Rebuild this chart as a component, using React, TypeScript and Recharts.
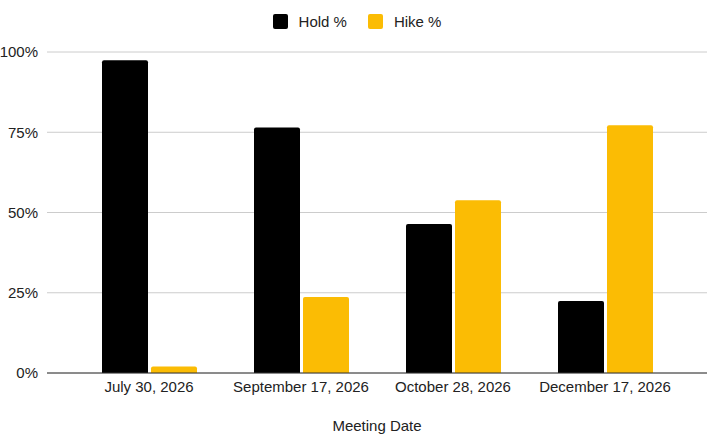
import React from 'react';
import { BarChart, Bar, XAxis, YAxis, CartesianGrid, Legend } from 'recharts';

const categories = ['July 30, 2026', 'September 17, 2026', 'October 28, 2026', 'December 17, 2026'];
const holdValues = [97.4, 76.5, 46.4, 22.4];
const hikeValues = [2.0, 23.7, 53.8, 77.2];
const yTicks = [0, 25, 50, 75, 100];

const data = categories.map((c, i) => ({ date: c, hold: holdValues[i], hike: hikeValues[i] }));

const FONT = '"Liberation Sans", Arial, sans-serif';
const HOLD_COLOR = '#000000';
const HIKE_COLOR = '#FBBC04';

const LegendContent = () => (
  <div style={{ display: 'flex', justifyContent: 'center', alignItems: 'center', fontFamily: FONT, fontSize: 15, color: '#222', height: 18 }}>
    {[
      { name: 'Hold %', color: HOLD_COLOR },
      { name: 'Hike %', color: HIKE_COLOR },
    ].map((it, i) => (
      <div key={it.name} style={{ display: 'flex', alignItems: 'center', marginLeft: i === 0 ? 0 : 21 }}>
        <div style={{ width: 15, height: 15, background: it.color, borderRadius: 2, marginRight: 11 }} />
        <span>{it.name}</span>
      </div>
    ))}
  </div>
);

export default function App() {
  return (
    <div style={{ position: 'absolute', left: 0, top: 0, width: 714, height: 438, background: '#fff' }}>
      <BarChart
        width={714}
        height={438}
        data={data}
        margin={{ top: 34, right: 7, left: 0, bottom: 0 }}
        barGap={3}
        barSize={46}
      >
        <Legend verticalAlign="top" align="center" content={<LegendContent />} wrapperStyle={{ top: 12, left: 0, width: 714 }} />
        <CartesianGrid vertical={false} stroke="#cccccc" />
        <XAxis
          dataKey="date"
          tickLine={false}
          axisLine={{ stroke: '#333333' }}
          padding={{ left: 26, right: 26 }}
          height={65}
          tick={{ fill: '#222', fontSize: 15, fontFamily: FONT }}
          interval={0}
          label={{ value: 'Meeting Date', position: 'insideBottom', offset: 7, fill: '#222', fontSize: 15, fontFamily: FONT }}
        />
        <YAxis
          domain={[0, 100]}
          ticks={yTicks}
          tickFormatter={(v) => `${v}%`}
          axisLine={false}
          tickLine={false}
          width={47}
          tickMargin={3}
          tick={{ fill: '#222', fontSize: 15, fontFamily: FONT }}
        />
        <Bar dataKey="hold" name="Hold %" fill={HOLD_COLOR} radius={[2, 2, 0, 0]} isAnimationActive={false} />
        <Bar dataKey="hike" name="Hike %" fill={HIKE_COLOR} radius={[2, 2, 0, 0]} isAnimationActive={false} />
      </BarChart>
    </div>
  );
}
